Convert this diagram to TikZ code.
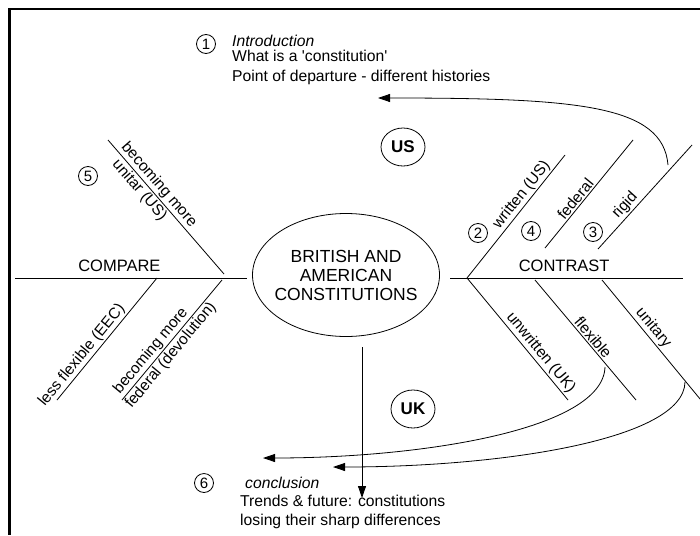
\documentclass[tikz,border=0pt]{standalone}
\usepackage{fontspec}
\setmainfont{Liberation Sans}
\usetikzlibrary{shapes.geometric, arrows.meta}

\begin{document}
\begin{tikzpicture}[
  x=1pt, y=-1pt,
  hub/.style={ellipse, draw, line width=0.8pt, minimum width=187pt, minimum height=123pt, inner sep=0pt},
  hubtext/.style={align=center, font=\fontsize{17.5}{19}\selectfont},
  bone/.style={line width=0.8pt},
  tag/.style={font=\fontsize{15.5}{18}\selectfont, inner sep=1.5pt},
  head/.style={font=\fontsize{16.5}{19}\selectfont, inner sep=3pt},
  num/.style={circle, draw, line width=0.8pt, minimum size=19pt, inner sep=0pt, font=\fontsize{15}{15}\selectfont},
  side/.style={ellipse, draw, line width=0.8pt, minimum width=44pt, minimum height=38pt, inner sep=0pt, font=\fontsize{17}{17}\selectfont\bfseries},
  txt/.style={anchor=base west, inner sep=0pt, font=\fontsize{15.7}{18}\selectfont},
  arrow/.style={-{Triangle[length=12pt, width=8pt]}, line width=0.8pt}
]
\useasboundingbox (0,0) rectangle (700,535);
\clip (0,0) rectangle (700,535);

% Frame
\draw[line width=2.5pt] (700,9) -- (9.5,9) -- (9.5,535);

% Centre
\node[hub] (hub) at (346,275) {};
\node[hubtext] (title) at (hub.center) {BRITISH AND\\AMERICAN\\CONSTITUTIONS};

% Spines
\coordinate (cmpEnd) at (15,278);
\coordinate (cmpHub) at (247,278);
\coordinate (conHub) at (450,278);
\coordinate (conEnd) at (683,278);
\draw[bone] (cmpEnd) -- node[head, above=3pt, pos=0.45] (compare) {COMPARE} (cmpHub);
\draw[bone] (conHub) -- node[head, above=3pt, pos=0.49] (contrast) {CONTRAST} (conEnd);

% Compare branches
\coordinate (unitTop) at (108,140);
\coordinate (unitFoot) at (224,274);
\coordinate (eecFoot) at (57,400);
\coordinate (eecTop) at (157,278);
\coordinate (devFoot) at (122,400);
\coordinate (devTop) at (222,280);
\draw[bone] (unitTop) -- node[tag, sloped, above, pos=0.38] {becoming more}
  node[tag, sloped, below, pos=0.33] {unitar (US)} (unitFoot);
\draw[bone] (eecFoot) -- node[tag, sloped, above, pos=0.32] {less flexible (EEC)} (eecTop);
\draw[bone] (devFoot) -- node[tag, sloped, above, pos=0.36] {becoming more}
  node[tag, sloped, below, pos=0.42] {federal (devolution)} (devTop);

% Contrast branches (US)
\coordinate (wrFoot) at (467,278);
\coordinate (wrTop) at (565,155);
\coordinate (fedFoot) at (545,248);
\coordinate (fedTop) at (633,140);
\coordinate (rigFoot) at (598,249);
\coordinate (rigTop) at (692,145);
\draw[bone] (wrFoot) -- node[tag, sloped, above, pos=0.63] {written (US)} (wrTop);
\draw[bone] (fedFoot) -- node[tag, sloped, above, pos=0.41] {federal} (fedTop);
\draw[bone] (rigFoot) -- node[tag, sloped, above, pos=0.36] {rigid} (rigTop);

% Contrast branches (UK)
\coordinate (unwTop) at (467,278);
\coordinate (unwFoot) at (568,400);
\coordinate (flxTop) at (535,280);
\coordinate (flxFoot) at (636,400);
\coordinate (utyTop) at (602,280);
\coordinate (utyFoot) at (705,405);
\draw[bone] (unwTop) -- node[tag, sloped, above, pos=0.66] {unwritten (UK)} (unwFoot);
\draw[bone] (flxTop) -- node[tag, sloped, above, pos=0.52] {flexible} (flxFoot);
\draw[bone] (utyTop) -- node[tag, sloped, above, pos=0.43] {unitary} (utyFoot);

% Country marks
\node[side] (us) at (403,147) {US};
\node[side] (uk) at (413,409) {UK};

% Numbered steps
\node[num] (n1) at (206,44) {1};
\node[num] (n2) at (478,233) {2};
\node[num] (n3) at (593,232) {3};
\node[num] (n4) at (531,231) {4};
\node[num] (n5) at (88,176) {5};
\node[num] (n6) at (204,483) {6};

% Introduction
\node[txt, font=\fontsize{15.7}{18}\selectfont\itshape] (intro) at (232,46) {Introduction};
\node[txt] (whatis) at (232,61) {What is a \textquotesingle constitution\textquotesingle};
\node[txt] (origin) at (232,81) {Point of departure - different histories};

% Conclusion
\node[txt, font=\fontsize{15.7}{18}\selectfont\itshape] (concl) at (245,488) {conclusion};
\node[txt] (trends) at (240,506) {Trends \& future: constitutions};
\node[txt] (losing) at (240,525) {losing their sharp differences};

% Arrows
\coordinate (rigidTap) at (668,165);
\coordinate (introTip) at (378,98);
\coordinate (flexTap) at (605,367);
\coordinate (conclTipA) at (263,458);
\coordinate (unitTap) at (685,382);
\coordinate (conclTipB) at (333,467);
\coordinate (hubTap) at (362,347);
\coordinate (trendTip) at (362,498);
\draw[arrow] (rigidTap) .. controls (663,105) and (578,98) .. (introTip);
\draw[arrow] (flexTap) .. controls (603,430) and (420,458) .. (conclTipA);
\draw[arrow] (unitTap) .. controls (684,440) and (500,467) .. (conclTipB);
\draw[arrow] (hubTap) -- (trendTip);

\end{tikzpicture}
\end{document}
